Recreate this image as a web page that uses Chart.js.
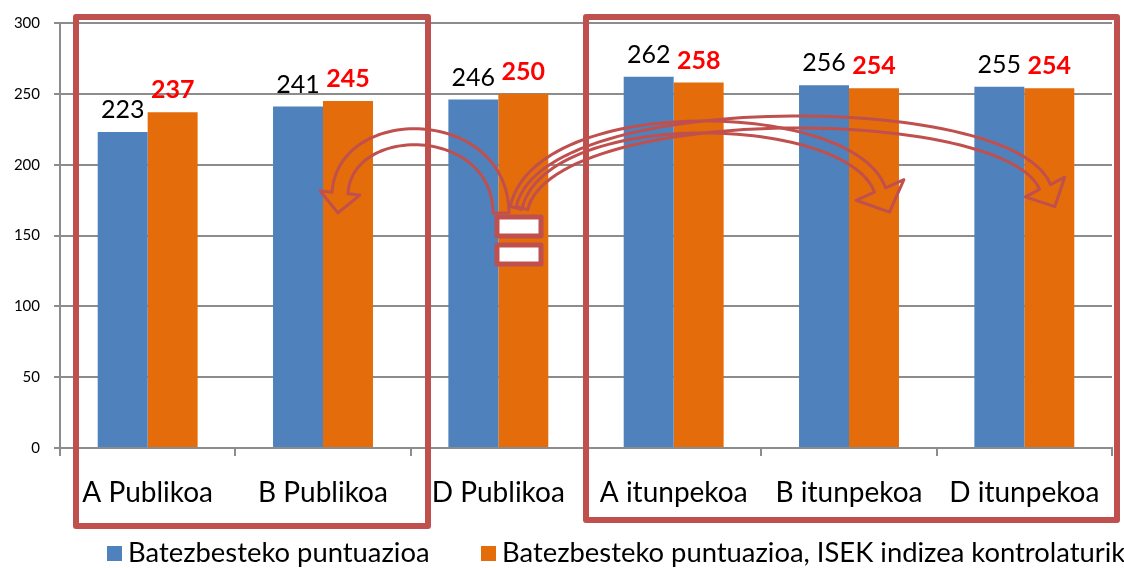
<!DOCTYPE html>
<html>
<head>
<meta charset="utf-8">
<script src="https://cdn.jsdelivr.net/npm/chart.js@4/dist/chart.umd.min.js"></script>
<style>
  html, body { margin: 0; padding: 0; background: #fff; }
  #wrap { width: 1124px; height: 568px; position: relative; }
</style>
</head>
<body>
<div id="wrap"><canvas id="chart" width="1124" height="568"></canvas></div>
<script>
const categories = ['A Publikoa', 'B Publikoa', 'D Publikoa', 'A itunpekoa', 'B itunpekoa', 'D itunpekoa'];
const seriesNames = ['Batezbesteko puntuazioa', 'Batezbesteko puntuazioa, ISEK indizea kontrolaturik'];
const meanScores = [223, 241, 246, 262, 256, 255];
const controlledScores = [237, 245, 250, 258, 254, 254];
const yTicks = [0, 50, 100, 150, 200, 250, 300];

const FONT = 'Lato';
const RED = '#c0504d';
const GRID = '#8c8c8c';

// value labels above each bar
const valueLabels = {
    id: 'valueLabels',
    afterDatasetsDraw(chart) {
        const ctx = chart.ctx;
        chart.data.datasets.forEach((ds, i) => {
            const meta = chart.getDatasetMeta(i);
            ctx.save();
            ctx.font = (i === 1 ? 'bold ' : '') + '25px ' + FONT;
            ctx.fillStyle = i === 1 ? '#ff0000' : '#000';
            ctx.textAlign = 'center';
            ctx.textBaseline = 'alphabetic';
            meta.data.forEach((bar, j) => ctx.fillText(ds.data[j], bar.x, bar.y - 14));
            ctx.restore();
        });
    }
};

// legend drawn by hand so the spacing matches the original
const bottomLegend = {
    id: 'bottomLegend',
    afterDraw(chart) {
        const ctx = chart.ctx;
        const xs = [107, 481];
        ctx.save();
        ctx.font = '27.4px ' + FONT;
        ctx.textBaseline = 'middle';
        chart.data.datasets.forEach((ds, i) => {
            ctx.fillStyle = ds.backgroundColor;
            ctx.fillRect(xs[i], 546, 15, 15);
            ctx.fillStyle = '#000';
            ctx.fillText(ds.label, xs[i] + 21, 553);
        });
        ctx.restore();
    }
};

function bez(p, t) {
    const u = 1 - t;
    return [
        u * u * u * p[0][0] + 3 * u * u * t * p[1][0] + 3 * u * t * t * p[2][0] + t * t * t * p[3][0],
        u * u * u * p[0][1] + 3 * u * u * t * p[1][1] + 3 * u * t * t * p[2][1] + t * t * t * p[3][1]
    ];
}

function blockArrow(ctx, p, w, headW, headLen) {
    const n = 60, left = [], right = [];
    for (let k = 0; k <= n; k++) {
        const t = k / n;
        const a = bez(p, t);
        const b = bez(p, Math.min(1, t + 0.01));
        const c = bez(p, Math.max(0, t - 0.01));
        let dx = b[0] - c[0], dy = b[1] - c[1];
        const len = Math.hypot(dx, dy);
        dx /= len; dy /= len;
        left.push([a[0] - dy * w / 2, a[1] + dx * w / 2]);
        right.push([a[0] + dy * w / 2, a[1] - dx * w / 2]);
    }
    const e = bez(p, 1), f = bez(p, 0.98);
    let dx = e[0] - f[0], dy = e[1] - f[1];
    const len = Math.hypot(dx, dy);
    dx /= len; dy /= len;
    ctx.beginPath();
    ctx.moveTo(left[0][0], left[0][1]);
    left.forEach(q => ctx.lineTo(q[0], q[1]));
    ctx.lineTo(e[0] - dy * headW / 2, e[1] + dx * headW / 2);
    ctx.lineTo(e[0] + dx * headLen, e[1] + dy * headLen);
    ctx.lineTo(e[0] + dy * headW / 2, e[1] - dx * headW / 2);
    for (let k = n; k >= 0; k--) ctx.lineTo(right[k][0], right[k][1]);
    ctx.closePath();
    ctx.stroke();
}

// red frames, small boxes and curved arrows drawn over the chart
const annotations = {
    id: 'annotations',
    afterDraw(chart) {
        const ctx = chart.ctx;
        ctx.save();
        ctx.strokeStyle = RED;
        ctx.lineJoin = 'round';

        ctx.lineWidth = 6;
        ctx.strokeRect(76, 17, 352, 509);
        ctx.strokeRect(586, 17, 531, 503);

        ctx.lineWidth = 3;
        blockArrow(ctx, [[501, 213], [500, 116], [345, 114], [340, 193]], 16, 40, 20);
        blockArrow(ctx, [[516, 208], [540, 100], [850, 106], [880, 190]], 12, 52, 24);
        blockArrow(ctx, [[522, 208], [548, 96], [1010, 98], [1045, 187]], 12, 44, 22);

        ctx.lineWidth = 5;
        ctx.fillStyle = '#fff';
        [[497, 217], [497, 245]].forEach(b => {
            ctx.fillRect(b[0], b[1], 44, 19);
            ctx.strokeRect(b[0], b[1], 44, 19);
        });
        ctx.restore();
    }
};

new Chart(document.getElementById('chart'), {
    type: 'bar',
    data: {
        labels: categories,
        datasets: [
            {
                label: seriesNames[0],
                data: meanScores,
                backgroundColor: '#4f81bd',
                categoryPercentage: 0.57,
                barPercentage: 1.0
            },
            {
                label: seriesNames[1],
                data: controlledScores,
                backgroundColor: '#e46c0a',
                categoryPercentage: 0.57,
                barPercentage: 1.0
            }
        ]
    },
    options: {
        responsive: false,
        animation: false,
        layout: { padding: { top: 21, right: 12, left: 0, bottom: 0 } },
        plugins: {
            legend: { display: false },
            tooltip: { enabled: false },
            title: { display: false }
        },
        scales: {
            x: {
                afterFit: s => { s.height = 120; },
                grid: {
                    drawOnChartArea: false,
                    drawTicks: true,
                    tickLength: 8,
                    color: GRID,
                    lineWidth: 2,
                    offset: true
                },
                border: { color: GRID, width: 2 },
                ticks: {
                    color: '#000',
                    padding: 20,
                    font: { family: FONT, size: 28 }
                }
            },
            y: {
                min: 0,
                max: 300,
                afterFit: s => { s.width = 60; },
                afterBuildTicks: s => { s.ticks = yTicks.map(v => ({ value: v })); },
                grid: {
                    color: GRID,
                    lineWidth: 2,
                    tickLength: 6
                },
                border: { color: GRID, width: 2 },
                ticks: {
                    color: '#000',
                    padding: 14,
                    font: { family: FONT, size: 15 }
                }
            }
        }
    },
    plugins: [valueLabels, bottomLegend, annotations]
});
</script>
</body>
</html>
